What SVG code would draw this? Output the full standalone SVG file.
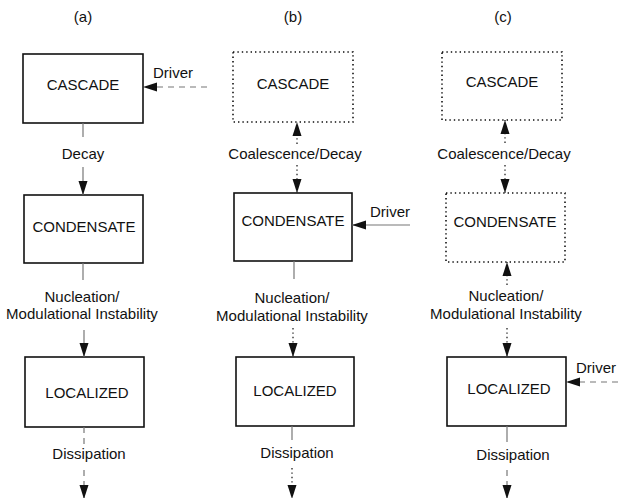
<svg xmlns="http://www.w3.org/2000/svg" width="618" height="498" viewBox="0 0 618 498">
<style>
text{font-family:"Liberation Sans",Arial,sans-serif;font-size:15px;fill:#111;text-anchor:middle}
.box{fill:#fff;stroke:#111;stroke-width:1.6}
.dot{fill:#fff;stroke:#111;stroke-width:1.6;stroke-dasharray:1.4 3}
.ln{stroke:#777;stroke-width:1.2;fill:none}
.dl{stroke:#333;stroke-width:1.4;fill:none;stroke-dasharray:1.4 3}
.ds{stroke:#777;stroke-width:1.2;fill:none;stroke-dasharray:6 5}
.ar{marker-end:url(#ah)}
</style>
<defs>
<marker id="ah" markerUnits="userSpaceOnUse" markerWidth="14" markerHeight="10" refX="14" refY="5" orient="auto">
<path d="M0,0.5 L14,5 L0,9.5 z" fill="#111"/>
</marker>
</defs>
<text x="83" y="22">(a)</text>
<text x="293" y="22">(b)</text>
<text x="503" y="22">(c)</text>

<g id="a-cascade"><rect class="box" x="23" y="54" width="120" height="69"/><text x="83" y="90">CASCADE</text></g>
<g id="a-condensate"><rect class="box" x="24" y="195" width="119" height="68"/><text x="84" y="232">CONDENSATE</text></g>
<g id="a-localized"><rect class="box" x="25" y="357" width="119" height="70"/><text x="87" y="398">LOCALIZED</text></g>

<g id="b-cascade"><rect class="dot" x="233" y="52" width="120" height="70"/><text x="293" y="89">CASCADE</text></g>
<g id="b-condensate"><rect class="box" x="234" y="193" width="118" height="68"/><text x="293" y="226">CONDENSATE</text></g>
<g id="b-localized"><rect class="box" x="236" y="357" width="118" height="69"/><text x="295" y="396">LOCALIZED</text></g>

<g id="c-cascade"><rect class="dot" x="442" y="52" width="120" height="68"/><text x="502" y="87">CASCADE</text></g>
<g id="c-condensate"><rect class="dot" x="446" y="193" width="119" height="69"/><text x="505" y="227">CONDENSATE</text></g>
<g id="c-localized"><rect class="box" x="447" y="357" width="119" height="69"/><text x="509" y="394">LOCALIZED</text></g>

<g id="connectors">
<line class="ds ar" x1="207" y1="87" x2="143" y2="87"/>
<line class="ln" x1="83" y1="123" x2="83" y2="137"/>
<line class="ln ar" x1="83" y1="167" x2="83" y2="195"/>
<line class="ln" x1="83" y1="263" x2="83" y2="280"/>
<line class="ln ar" x1="84" y1="330" x2="84" y2="357"/>
<line class="ds" x1="84" y1="427" x2="84" y2="447"/>
<line class="ds ar" x1="84" y1="470" x2="84" y2="499"/>

<line class="dl ar" x1="297" y1="144" x2="297" y2="122"/>
<line class="dl ar" x1="297" y1="165" x2="297" y2="193"/>
<line class="ln ar" x1="410" y1="225" x2="352" y2="225"/>
<line class="ln" x1="294" y1="261" x2="294" y2="279"/>
<line class="dl ar" x1="293" y1="328" x2="293" y2="357"/>
<line class="ln" x1="292" y1="426" x2="292" y2="440"/>
<line class="dl ar" x1="292" y1="468" x2="292" y2="499"/>

<line class="dl ar" x1="505" y1="143" x2="505" y2="120"/>
<line class="dl ar" x1="505" y1="165" x2="505" y2="193"/>
<line class="dl ar" x1="507" y1="285" x2="507" y2="262"/>
<line class="dl ar" x1="507" y1="328" x2="507" y2="357"/>
<line class="ds ar" x1="618" y1="382" x2="566" y2="382"/>
<line class="ln" x1="507" y1="426" x2="507" y2="442"/>
<line class="ds ar" x1="507" y1="470" x2="507" y2="499"/>
</g>

<g id="labels">
<text x="173" y="78">Driver</text>
<text x="83" y="159">Decay</text>
<text x="82" y="302">Nucleation/</text>
<text x="82" y="319">Modulational Instability</text>
<text x="89" y="459">Dissipation</text>

<text x="295" y="159">Coalescence/Decay</text>
<text x="390" y="217">Driver</text>
<text x="292" y="303">Nucleation/</text>
<text x="292" y="321">Modulational Instability</text>
<text x="297" y="458">Dissipation</text>

<text x="504" y="159">Coalescence/Decay</text>
<text x="506" y="301">Nucleation/</text>
<text x="506" y="319">Modulational Instability</text>
<text x="576" y="373" style="text-anchor:start">Driver</text>
<text x="513" y="460">Dissipation</text>
</g>
</svg>
